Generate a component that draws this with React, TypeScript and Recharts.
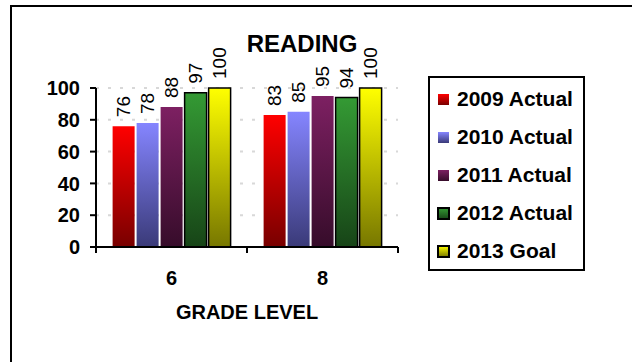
import { BarChart, Bar, XAxis, YAxis, CartesianGrid, Legend, LabelList } from "recharts"

const grades = ["6", "8"]
const actual2009 = [76, 83]
const actual2010 = [78, 85]
const actual2011 = [88, 95]
const actual2012 = [97, 94]
const goal2013 = [100, 100]
const yTicks = [0, 20, 40, 60, 80, 100]

const data = grades.map((grade, i) => ({
  grade,
  a2009: actual2009[i],
  a2010: actual2010[i],
  a2011: actual2011[i],
  a2012: actual2012[i],
  g2013: goal2013[i],
}))

const series = [
  { key: "a2009", name: "2009 Actual", top: "#ff0000", bottom: "#780000", outlined: false },
  { key: "a2010", name: "2010 Actual", top: "#8585ff", bottom: "#3a3a78", outlined: false },
  { key: "a2011", name: "2011 Actual", top: "#7d2062", bottom: "#360c2a", outlined: false },
  { key: "a2012", name: "2012 Actual", top: "#349a34", bottom: "#174417", outlined: true },
  { key: "g2013", name: "2013 Goal", top: "#ffff00", bottom: "#777700", outlined: true },
]

const FONT = "'Liberation Sans', Arial, Helvetica, sans-serif"

// rotated value above each bar
function ValueLabel(props: any) {
  const box = props.viewBox ?? props
  const { x, y, width } = box
  const cx = x + width / 2
  const by = y - 9
  return (
    <text
      x={cx}
      y={by}
      transform={`rotate(-90, ${cx}, ${by})`}
      textAnchor="start"
      dominantBaseline="central"
      fontSize={19}
      fontFamily={FONT}
      fill="#000"
    >
      {props.value}
    </text>
  )
}

// grade label plus Excel-style tick marks on the category edges
function GradeTick(props: any) {
  const { x, y, payload } = props
  const half = payload.offset ?? 0
  const axisY = y - 24
  return (
    <g>
      <line x1={x - half} y1={axisY} x2={x - half} y2={axisY + 6} stroke="#000" strokeWidth={2} />
      <line x1={x + half} y1={axisY} x2={x + half} y2={axisY + 6} stroke="#000" strokeWidth={2} />
      <text x={x} y={y} dy="0.71em" textAnchor="middle" fontSize={20} fontWeight="bold" fontFamily={FONT} fill="#000">
        {payload.value}
      </text>
    </g>
  )
}

function LegendBox(props: any) {
  const items = props.payload ?? []
  return (
    <div
      style={{
        boxSizing: "border-box",
        width: 157,
        height: 195,
        border: "2px solid #000",
        background: "#fff",
        paddingTop: 2,
        fontFamily: FONT,
      }}
    >
      {items.map((entry: any) => {
        const s = series.find((it) => it.key === entry.dataKey)
        return (
          <div key={entry.value} style={{ height: 38, display: "flex", alignItems: "center", paddingLeft: 7 }}>
            <svg width={13} height={13} style={{ display: "block" }}>
              <rect
                x={1}
                y={1}
                width={11}
                height={11}
                fill={entry.color}
                stroke={s?.outlined ? "#000" : "none"}
                strokeWidth={2}
              />
            </svg>
            <span style={{ marginLeft: 7, fontSize: 21, fontWeight: "bold", color: "#000", whiteSpace: "nowrap" }}>
              {entry.value}
            </span>
          </div>
        )
      })}
    </div>
  )
}

export default function App() {
  return (
    <>
      <style>{"body{overflow:hidden}"}</style>
      <div
        style={{
          position: "absolute",
          left: 10,
          top: 5,
          width: 700,
          height: 500,
          borderTop: "2px solid #000",
          borderLeft: "2px solid #000",
        }}
      />
      <div style={{ position: "absolute", left: 0, top: 0, width: 632, height: 362 }}>
        <BarChart
          width={632}
          height={362}
          data={data}
          margin={{ top: 88, right: 234, bottom: 35, left: 0 }}
          barCategoryGap="11%"
          barGap={2}
        >
          <defs>
            {series.map((s) => (
              <linearGradient key={s.key} id={`grad-${s.key}`} x1="0" y1="0" x2="0" y2="1">
                <stop offset="0%" stopColor={s.top} />
                <stop offset="100%" stopColor={s.bottom} />
              </linearGradient>
            ))}
          </defs>
          <CartesianGrid vertical={false} stroke="#d8d8d8" strokeWidth={2} strokeDasharray="3 9" />
          <XAxis
            dataKey="grade"
            height={80}
            tickLine={false}
            tickSize={6}
            tickMargin={18}
            axisLine={{ stroke: "#000", strokeWidth: 2 }}
            tick={<GradeTick />}
            label={{
              value: "GRADE LEVEL",
              position: "insideBottom",
              offset: 8,
              fontSize: 20,
              fontWeight: "bold",
              fontFamily: FONT,
              fill: "#000",
            }}
          />
          <YAxis
            width={96}
            domain={[0, 100]}
            ticks={yTicks}
            tickSize={6}
            tickMargin={10}
            axisLine={{ stroke: "#000", strokeWidth: 2 }}
            tickLine={{ stroke: "#000", strokeWidth: 2 }}
            tick={{ fontSize: 20, fontWeight: "bold", fontFamily: FONT, fill: "#000" }}
          />
          <Legend
            layout="horizontal"
            align="center"
            verticalAlign="middle"
            wrapperStyle={{ left: 428, top: 76, width: 157, height: 195 }}
            content={<LegendBox />}
          />
          {series.map((s) => (
            <Bar
              key={s.key}
              dataKey={s.key}
              name={s.name}
              fill={`url(#grad-${s.key})`}
              stroke={s.outlined ? "#000" : "none"}
              strokeWidth={1.5}
              isAnimationActive={false}
            >
              <LabelList dataKey={s.key} content={<ValueLabel />} />
            </Bar>
          ))}
        </BarChart>
      </div>
      <div
        style={{
          position: "absolute",
          left: 202,
          top: 32,
          width: 200,
          textAlign: "center",
          fontFamily: FONT,
          fontSize: 24,
          lineHeight: "24px",
          fontWeight: "bold",
          color: "#000",
        }}
      >
        READING
      </div>
    </>
  )
}
